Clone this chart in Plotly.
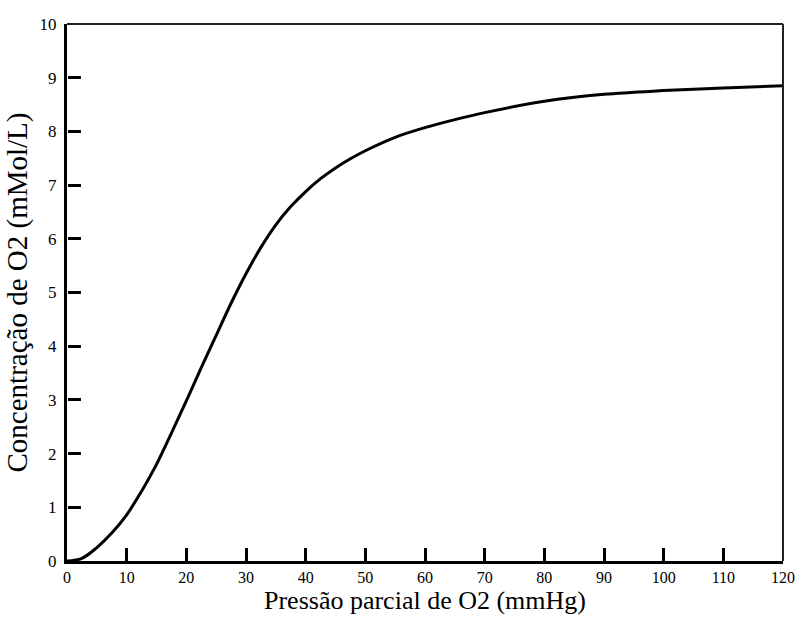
import plotly.graph_objects as go

# Oxygen partial pressure (mmHg) and concentration (mMol/L)
pressao = [0, 2.5, 5, 7.5, 10, 12.5, 15, 17.5, 20, 22.5, 25, 27.5, 30, 32.5, 35, 37.5, 40,
           42.5, 45, 47.5, 50, 55, 60, 65, 70, 80, 90, 100, 110, 120]
concentracao = [0.0, 0.05, 0.25, 0.52, 0.86, 1.3, 1.8, 2.38, 2.98, 3.6, 4.2, 4.8, 5.35, 5.84, 6.26,
                6.6, 6.88, 7.12, 7.32, 7.49, 7.64, 7.89, 8.07, 8.22, 8.35, 8.56, 8.69, 8.76, 8.81, 8.85]

x_ticks = [0, 10, 20, 30, 40, 50, 60, 70, 80, 90, 100, 110, 120]
y_ticks = [0, 1, 2, 3, 4, 5, 6, 7, 8, 9, 10]
x_minor_marks = [10, 20, 30, 40, 50, 60, 70, 80, 90, 100, 110]
y_minor_marks = [1, 2, 3, 4, 5, 6, 7, 8, 9]

FONT = "Liberation Serif, Times New Roman, serif"

fig = go.Figure()
fig.add_trace(go.Scatter(
    x=pressao, y=concentracao, mode="lines",
    line=dict(color="black", width=3, shape="spline", smoothing=1),
    showlegend=False, hoverinfo="skip", cliponaxis=False,
))
# empty traces so that the overlay tick axes get drawn
fig.add_trace(go.Scatter(x=[], y=[], xaxis="x2", yaxis="y", showlegend=False, hoverinfo="skip"))
fig.add_trace(go.Scatter(x=[], y=[], xaxis="x", yaxis="y2", showlegend=False, hoverinfo="skip"))

fig.update_layout(
    template="none",
    width=795, height=617,
    margin=dict(l=67, r=12, t=24, b=56),
    paper_bgcolor="white", plot_bgcolor="rgba(0,0,0,0)",
    font=dict(family=FONT, color="black", size=16),
    xaxis=dict(
        range=[0, 120], tickmode="array", tickvals=x_ticks, ticktext=[str(v) for v in x_ticks],
        ticks="", showline=True, linewidth=3, linecolor="black", showgrid=False, zeroline=False,
        tickfont=dict(family=FONT, size=16), ticklabeloverflow="allow", automargin=False,
        title=dict(text="Pressão parcial de O2 (mmHg)", font=dict(family=FONT, size=26), standoff=6),
    ),
    yaxis=dict(
        range=[0, 10], tickmode="array", tickvals=y_ticks, ticktext=[str(v) for v in y_ticks],
        ticks="", showline=True, linewidth=3, linecolor="black", showgrid=False, zeroline=False,
        tickfont=dict(family=FONT, size=17), ticklabeloverflow="allow", automargin=False,
        ticklabelstandoff=4,
        title=dict(text="Concentração de O2 (mMol/L)", font=dict(family=FONT, size=29), standoff=4),
    ),
    # tick marks pointing into the plot, drawn as outside ticks of overlay axes
    xaxis2=dict(
        overlaying="x", side="top", anchor="free", position=0, range=[0, 120],
        tickmode="array", tickvals=x_minor_marks, showticklabels=False,
        ticks="outside", ticklen=13, tickwidth=3, tickcolor="black",
        showline=False, showgrid=False, zeroline=False, automargin=False,
    ),
    yaxis2=dict(
        overlaying="y", side="right", anchor="free", position=0, range=[0, 10],
        tickmode="array", tickvals=y_minor_marks, showticklabels=False,
        ticks="outside", ticklen=13, tickwidth=3, tickcolor="black",
        showline=False, showgrid=False, zeroline=False, automargin=False,
    ),
    shapes=[
        dict(type="line", xref="paper", yref="paper", x0=0, x1=1, y0=1, y1=1,
             line=dict(color="#222", width=2)),
        dict(type="line", xref="paper", yref="paper", x0=1, x1=1, y0=0, y1=1,
             line=dict(color="#222", width=2)),
    ],
)

fig.write_html("out.html")
